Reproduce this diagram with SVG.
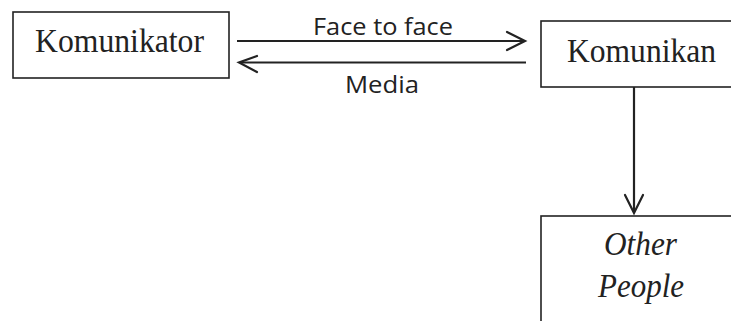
<svg xmlns="http://www.w3.org/2000/svg" width="731" height="321" viewBox="0 0 731 321">
<style>
.box{fill:#fff;stroke:#222;stroke-width:1.6}
.serif{font-family:"Liberation Serif","Times New Roman",serif;fill:#222;text-anchor:middle}
.sans{font-family:"Open Sans","Liberation Sans",sans-serif;fill:#222;text-anchor:middle}
.conn{stroke:#222;stroke-width:2.2;fill:none}
.head{stroke:#222;stroke-width:2.2;fill:none;stroke-linecap:round;stroke-linejoin:miter}
</style>
<rect width="731" height="321" fill="#fff"/>
<g id="komunikator">
<rect class="box" x="13" y="12" width="216" height="66"/>
<text class="serif" x="119.5" y="52" font-size="33" textLength="169" lengthAdjust="spacingAndGlyphs">Komunikator</text>
</g>
<g id="komunikan">
<rect class="box" x="541" y="21" width="200" height="66"/>
<text class="serif" x="641.5" y="62" font-size="33" textLength="149" lengthAdjust="spacingAndGlyphs">Komunikan</text>
</g>
<g id="other-people">
<rect class="box" x="541" y="216" width="200" height="120"/>
<text class="serif" x="640.5" y="255" font-size="33" font-style="italic" textLength="73" lengthAdjust="spacingAndGlyphs">Other</text>
<text class="serif" x="641" y="297" font-size="33" font-style="italic" textLength="86" lengthAdjust="spacingAndGlyphs">People</text>
</g>
<g id="connectors">
<line class="conn" x1="237" y1="41" x2="524" y2="41"/>
<polyline class="head" points="507,32 525,41 507,50"/>
<text class="sans" x="383" y="35" font-size="24" textLength="140" lengthAdjust="spacingAndGlyphs">Face to face</text>
<line class="conn" x1="526" y1="62.5" x2="240" y2="62.5"/>
<polyline class="head" points="257,56 239,62.5 257,72"/>
<text class="sans" x="382" y="93" font-size="24" textLength="74" lengthAdjust="spacingAndGlyphs">Media</text>
<line class="conn" x1="634" y1="87" x2="634" y2="212"/>
<polyline class="head" points="625,195 634,213 643,195"/>
</g>
</svg>
